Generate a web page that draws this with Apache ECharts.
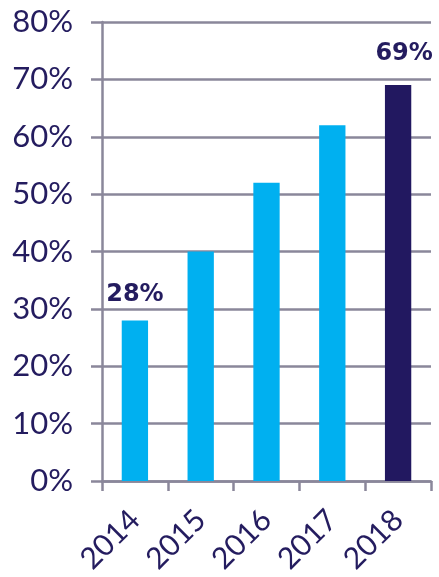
<!DOCTYPE html>
<html><head><meta charset="utf-8">
<script src="https://cdn.jsdelivr.net/npm/echarts@6/dist/echarts.min.js"></script>
<style>html,body{margin:0;padding:0;background:#fff}#c{width:439px;height:577px}</style>
</head><body><div id="c"></div>
<script>
const categories = ['2014','2015','2016','2017','2018'];
const values = [28, 40, 52, 62, 69];
const labeledYears = ['2014','2018'];
const yTicks = [0,10,20,30,40,50,60,70,80];

const textColor = '#241c5f';
const gridColor = '#8a879a';
const axisFont = "Lato, 'Liberation Sans', sans-serif";
const chart = echarts.init(document.getElementById('c'));
chart.setOption({
  animation: false,
  grid: { left: 102, right: 8, top: 22, bottom: 95 },
  xAxis: {
    type: 'category', data: categories,
    axisLine: { lineStyle: { color: gridColor, width: 2.5 } },
    axisTick: { show: true, length: 10, lineStyle: { color: gridColor, width: 2.5 } },
    axisLabel: { rotate: 45, color: textColor, fontSize: 30, fontFamily: axisFont, fontWeight: 400, margin: 34 }
  },
  yAxis: {
    type: 'value', min: 0, max: 80, interval: 10,
    axisLine: { show: true, lineStyle: { color: gridColor, width: 2.5 } },
    axisTick: { show: true, length: 11, lineStyle: { color: gridColor, width: 2.5 } },
    splitLine: { lineStyle: { color: gridColor, width: 2.5 } },
    axisLabel: { color: textColor, fontSize: 31, fontFamily: axisFont, fontWeight: 400, margin: 29,
      formatter: v => yTicks.includes(v) ? v + '%' : '' }
  },
  series: [{
    type: 'bar', barWidth: '40%',
    data: values.map((v, i) => ({
      value: v,
      itemStyle: { color: i === values.length - 1 ? '#221860' : '#00b0f0' },
      label: {
        show: labeledYears.includes(categories[i]),
        position: 'top', distance: i === values.length - 1 ? 19 : 14, offset: [i === values.length - 1 ? 6 : 0, 0],
        formatter: '{c}%', color: textColor, fontSize: 24, fontWeight: 'bold', fontFamily: 'DejaVu Sans'
      }
    }))
  }]
});
</script></body></html>
